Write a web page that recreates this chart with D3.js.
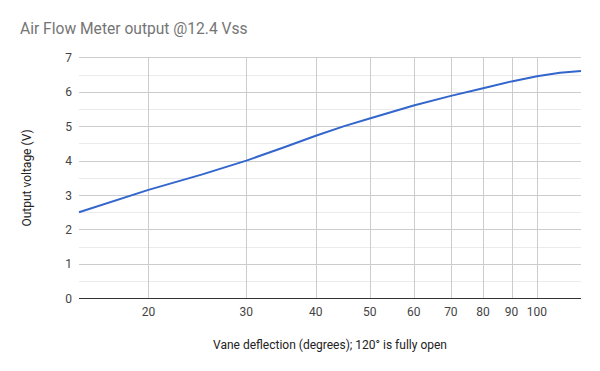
<!DOCTYPE html>
<html><head><meta charset="utf-8">
<script src="https://cdn.jsdelivr.net/npm/d3@7"></script>
<style>body{margin:0;background:#fff}svg{display:block;font-family:Roboto,sans-serif}</style>
</head><body><svg id="c" width="600" height="371"></svg>
<script>
const deflection = [15, 20, 25, 30, 35, 40, 45, 50, 60, 70, 80, 90, 100, 110, 120];
const voltage = [2.5, 3.15, 3.6, 4.0, 4.38, 4.72, 5.0, 5.22, 5.6, 5.88, 6.1, 6.3, 6.45, 6.55, 6.6];
const xTicks = [20, 30, 40, 50, 60, 70, 80, 90, 100];
const yTicks = [0, 1, 2, 3, 4, 5, 6, 7];
const yMinor = [0.5, 1.5, 2.5, 3.5, 4.5, 5.5, 6.5];
const title = "Air Flow Meter output @12.4 Vss";
const xTitle = "Vane deflection (degrees); 120° is fully open";
const yTitle = "Output voltage (V)";

const svg = d3.select("#c");
const L = 79, R = 581, T = 57.3, B = 298.3;
const x = d3.scaleLog().domain([15, 120]).range([L, R]);
const y = d3.scaleLinear().domain([0, 7]).range([B, T]);

svg.append("text").attr("x", 20).attr("y", 34).attr("font-size", 15.6).attr("fill", "#757575").text(title);

svg.append("g").selectAll("line").data(yMinor).join("line")
  .attr("x1", L).attr("x2", R).attr("y1", d => Math.round(y(d)) + 0.5).attr("y2", d => Math.round(y(d)) + 0.5)
  .attr("stroke", "#ebebeb");
svg.append("g").selectAll("line").data(yTicks.filter(d => d > 0)).join("line")
  .attr("x1", L).attr("x2", R).attr("y1", d => Math.round(y(d)) + 0.5).attr("y2", d => Math.round(y(d)) + 0.5)
  .attr("stroke", "#cccccc");
svg.append("g").selectAll("line").data(xTicks).join("line")
  .attr("x1", d => Math.round(x(d)) + 0.5).attr("x2", d => Math.round(x(d)) + 0.5).attr("y1", T).attr("y2", B)
  .attr("stroke", "#cccccc");

svg.append("line").attr("x1", L).attr("x2", R).attr("y1", Math.round(B) + 0.5).attr("y2", Math.round(B) + 0.5)
  .attr("stroke", "#333333");

svg.append("g").selectAll("text").data(yTicks).join("text")
  .attr("x", 72).attr("y", d => y(d) + 4.5).attr("text-anchor", "end")
  .attr("font-size", 12).attr("fill", "#444").text(d => d);
svg.append("g").selectAll("text").data(xTicks).join("text")
  .attr("x", d => x(d)).attr("y", 316).attr("text-anchor", "middle")
  .attr("font-size", 12).attr("fill", "#444").text(d => d);

const line = d3.line().x((d, i) => x(deflection[i])).y(d => y(d));
svg.append("path").datum(voltage).attr("d", line).attr("fill", "none")
  .attr("stroke", "#3366cc").attr("stroke-width", 2).attr("stroke-linejoin", "round");

svg.append("text").attr("x", (L + R) / 2).attr("y", 349).attr("text-anchor", "middle")
  .attr("font-size", 12).attr("fill", "#222").text(xTitle);
svg.append("text").attr("transform", "translate(31,178) rotate(-90)").attr("text-anchor", "middle")
  .attr("font-size", 12).attr("fill", "#222").text(yTitle);
</script></body></html>
